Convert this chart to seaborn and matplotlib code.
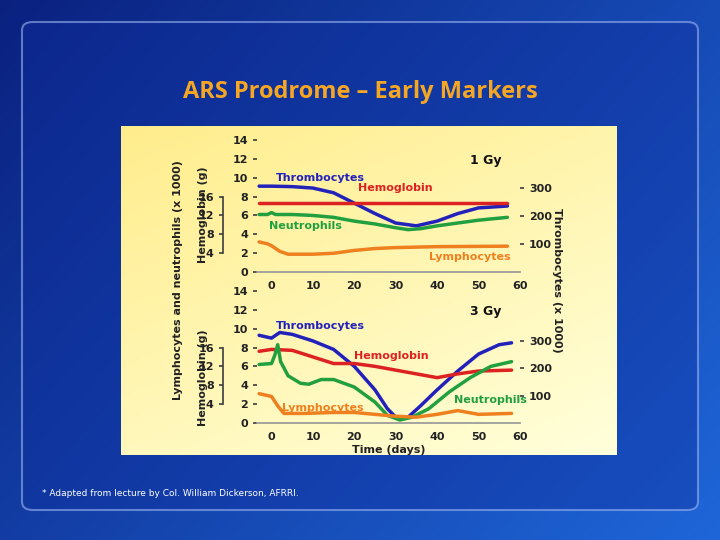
import numpy as np
import pandas as pd
import matplotlib
matplotlib.use("Agg")
import matplotlib.pyplot as plt
import seaborn as sns
from matplotlib.patches import FancyBboxPatch

sns.set_theme(style="white")
plt.rcParams['font.family'] = ['DejaVu Sans']

# ---- data (left-axis units, x 1000 cells) ----
g1_thromb_x = [-3, 0, 5, 10, 15, 20, 25, 30, 35, 40, 45, 50, 57]
g1_thromb_y = [9.1, 9.1, 9.05, 8.9, 8.4, 7.3, 6.2, 5.2, 4.9, 5.4, 6.2, 6.8, 7.0]
g1_hemo_x = [-3, 57]
g1_hemo_y = [7.3, 7.3]
g1_neut_x = [-3, -1, 0, 1, 5, 10, 15, 20, 25, 30, 33, 36, 40, 45, 50, 57]
g1_neut_y = [6.1, 6.1, 6.3, 6.1, 6.1, 6.0, 5.8, 5.4, 5.1, 4.7, 4.5, 4.6, 4.9, 5.2, 5.5, 5.8]
g1_lymph_x = [-3, -1, 0, 2, 4, 10, 15, 20, 25, 30, 40, 57]
g1_lymph_y = [3.2, 3.0, 2.8, 2.2, 1.9, 1.9, 2.0, 2.3, 2.5, 2.6, 2.7, 2.75]

g3_thromb_x = [-3, 0, 2, 5, 10, 15, 20, 25, 28, 30, 33, 36, 40, 45, 50, 55, 58]
g3_thromb_y = [9.3, 9.0, 9.6, 9.4, 8.7, 7.8, 6.0, 3.5, 1.5, 0.6, 0.6, 1.8, 3.5, 5.5, 7.3, 8.3, 8.5]
g3_hemo_x = [-3, 0, 5, 10, 15, 20, 25, 30, 35, 40, 45, 50, 58]
g3_hemo_y = [7.6, 7.8, 7.7, 7.0, 6.3, 6.3, 6.0, 5.6, 5.2, 4.8, 5.2, 5.5, 5.6]
g3_neut_x = [-3, 0, 0.8, 1.5, 2.2, 4, 7, 9, 12, 15, 20, 25, 28, 31, 34, 38, 43, 48, 53, 58]
g3_neut_y = [6.2, 6.3, 7.2, 8.3, 6.5, 5.0, 4.2, 4.1, 4.6, 4.6, 3.8, 2.2, 0.8, 0.3, 0.6, 1.5, 3.3, 4.8, 6.0, 6.5]
g3_lymph_x = [-3, 0, 1.5, 3, 8, 15, 20, 25, 30, 35, 40, 45, 50, 58]
g3_lymph_y = [3.1, 2.8, 1.8, 1.0, 1.0, 1.1, 1.1, 0.9, 0.7, 0.6, 0.9, 1.3, 0.9, 1.0]

x_ticks = [0, 10, 20, 30, 40, 50, 60]
left_ticks = [0, 2, 4, 6, 8, 10, 12, 14]
hemo_ticks = [4, 8, 12, 16]
thromb_ticks = [100, 200, 300]

COL = {"Thrombocytes": "#2222bb", "Hemoglobin": "#dd2222",
       "Neutrophils": "#22a040", "Lymphocytes": "#ee8020"}

fig = plt.figure(figsize=(7.2, 5.4), dpi=100)

# background
bg = fig.add_axes([0, 0, 1, 1], zorder=-10)
yy, xx = np.mgrid[0:1:200j, 0:1:200j]
t = np.clip(0.6 * xx + 0.4 * (1 - yy), 0, 1)
c0 = np.array([0.04, 0.13, 0.50]); c1 = np.array([0.12, 0.40, 0.85])
img = c0[None, None, :] * (1 - t[..., None]) + c1[None, None, :] * t[..., None]
bg.imshow(img, extent=[0, 1, 0, 1], aspect='auto', origin='lower')
bg.set_xlim(0, 1); bg.set_ylim(0, 1); bg.axis('off')
bg.add_patch(FancyBboxPatch((22/720, 30/540), 676/720, 488/540,
             boxstyle="round,pad=0,rounding_size=0.015", fc=(0.06, 0.18, 0.62, 0.4),
             ec=(0.6, 0.7, 0.95, 0.6), lw=1.5, transform=bg.transAxes))
fig.text(0.5, 1 - 92/540, "ARS Prodrome – Early Markers", ha='center', va='center',
         fontsize=17, fontweight='bold', color='#f5a623', family=['Open Sans', 'DejaVu Sans'])
fig.text(42/720, 1 - 493/540, "* Adapted from lecture by Col. William Dickerson, AFRRI.",
         fontsize=6.5, color='white', va='center')

# chart box
box = fig.add_axes([121/720, 85/540, 496/720, 329/540], zorder=-5)
yy, xx = np.mgrid[0:1:100j, 0:1:100j]
t = np.clip(0.6 * (1 - yy) + 0.4 * (1 - xx), 0, 1)
a = np.array([1.0, 1.0, 0.86]); b = np.array([1.0, 0.93, 0.55])
box.imshow(a * (1 - t[..., None]) + b * t[..., None], extent=[0, 1, 0, 1], aspect='auto', origin='upper')
box.axis('off')

def panel(rect, data, label, tfac, xlabel):
    ax = fig.add_axes(rect)
    ax.patch.set_alpha(0)
    for name, (xs, ys) in data.items():
        df = pd.DataFrame({"x": xs, "y": ys})
        sns.lineplot(data=df, x="x", y="y", ax=ax, color=COL[name], lw=2.5)
    ax.set_xlim(-3.5, 60); ax.set_ylim(0, 14)
    ax.set_xticks(x_ticks); ax.set_yticks(left_ticks)
    ax.tick_params(labelsize=8, length=3, direction='out', colors='#444')
    for lab in ax.get_xticklabels() + ax.get_yticklabels():
        lab.set_fontweight('bold'); lab.set_color('#222')
    for s in ['top', 'right']:
        ax.spines[s].set_visible(False)
    ax.spines['left'].set_visible(False)
    ax.spines['bottom'].set_color('#999')
    ax.tick_params(axis='y', left=True)
    ax.set_ylabel(""); ax.set_xlabel(xlabel, fontsize=8, fontweight='bold', color='#222', labelpad=2)
    # hemoglobin secondary axis
    h = ax.secondary_yaxis(-0.13, functions=(lambda y: 2 * y, lambda g: g / 2))
    h.set_yticks(hemo_ticks)
    h.spines['left'].set_bounds(4, 16); h.spines['left'].set_color('#444')
    h.tick_params(labelsize=8, length=3, colors='#444')
    for lab in h.get_yticklabels():
        lab.set_fontweight('bold'); lab.set_color('#222')
    # thrombocyte secondary axis
    r = ax.secondary_yaxis('right', functions=(lambda y: y * tfac, lambda v: v / tfac))
    r.set_yticks(thromb_ticks)
    r.spines['right'].set_visible(False)
    r.tick_params(labelsize=8, length=3, colors='#444')
    for lab in r.get_yticklabels():
        lab.set_fontweight('bold'); lab.set_color('#222')
    ax.text(0.93, 0.82, label, transform=ax.transAxes, ha='right', fontsize=9, fontweight='bold', color='#111')
    return ax

ax1 = panel([0.357, 0.496, 0.365, 0.245],
            {"Thrombocytes": (g1_thromb_x, g1_thromb_y), "Hemoglobin": (g1_hemo_x, g1_hemo_y),
             "Neutrophils": (g1_neut_x, g1_neut_y), "Lymphocytes": (g1_lymph_x, g1_lymph_y)},
            "1 Gy", 33.8, "")
ax1.text(1, 9.6, "Thrombocytes", color=COL["Thrombocytes"], fontsize=8, fontweight='bold')
ax1.text(21, 8.6, "Hemoglobin", color=COL["Hemoglobin"], fontsize=8, fontweight='bold')
ax1.text(-0.5, 4.6, "Neutrophils", color=COL["Neutrophils"], fontsize=8, fontweight='bold')
ax1.text(38, 1.3, "Lymphocytes", color=COL["Lymphocytes"], fontsize=8, fontweight='bold')

ax2 = panel([0.357, 0.217, 0.365, 0.244],
            {"Thrombocytes": (g3_thromb_x, g3_thromb_y), "Hemoglobin": (g3_hemo_x, g3_hemo_y),
             "Neutrophils": (g3_neut_x, g3_neut_y), "Lymphocytes": (g3_lymph_x, g3_lymph_y)},
            "3 Gy", 34.6, "Time (days)")
ax2.text(1, 10.0, "Thrombocytes", color=COL["Thrombocytes"], fontsize=8, fontweight='bold')
ax2.text(20, 6.8, "Hemoglobin", color=COL["Hemoglobin"], fontsize=8, fontweight='bold')
ax2.text(44, 2.1, "Neutrophils", color=COL["Neutrophils"], fontsize=8, fontweight='bold')
ax2.text(2.5, 1.3, "Lymphocytes", color=COL["Lymphocytes"], fontsize=8, fontweight='bold')

fig.text(178/720, 1 - 280/540, "Lymphocytes and neutrophils (x 1000)", rotation=90,
         ha='center', va='center', fontsize=8, fontweight='bold', color='#222')
for yc in (215, 378):
    fig.text(203/720, 1 - yc/540, "Hemoglobin (g)", rotation=90,
             ha='center', va='center', fontsize=8, fontweight='bold', color='#222')
fig.text(557/720, 1 - 280/540, "Thrombocytes (x 1000)", rotation=-90,
         ha='center', va='center', fontsize=8, fontweight='bold', color='#222')

fig.savefig("out.png", dpi=100)
